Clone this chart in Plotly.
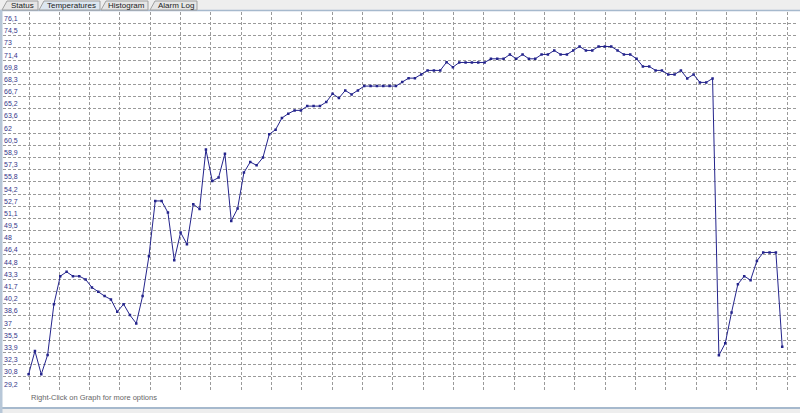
import numpy as np
import plotly.graph_objects as go

# ---------------- data ----------------
TEMPERATURES = [
    31.08, 34.07, 31.08, 33.56, 40.09, 43.68, 44.23, 43.68, 43.68, 43.26,
    42.23, 41.67, 41.12, 40.69, 39.11, 40.09, 38.68, 37.62, 41.12, 46.24,
    53.33, 53.33, 51.84, 45.73, 49.28, 47.78, 52.91, 52.30, 59.92, 55.89,
    56.33, 59.40, 50.77, 52.35, 56.97, 58.33, 57.90, 58.89, 61.88, 62.48,
    63.97, 64.53, 64.95, 64.95, 65.50, 65.50, 65.50, 66.02, 67.09, 66.53,
    67.51, 67.00, 67.51, 68.07, 68.07, 68.07, 68.07, 68.07, 68.07, 68.58,
    69.09, 69.09, 69.56, 70.08, 70.08, 70.08, 71.14, 70.50, 71.10, 71.10,
    71.10, 71.10, 71.10, 71.57, 71.57, 71.57, 72.13, 71.57, 72.13, 71.57,
    71.57, 72.13, 72.13, 72.64, 72.13, 72.13, 72.64, 73.15, 72.64, 72.64,
    73.15, 73.15, 73.15, 72.64, 72.13, 72.13, 71.57, 70.59, 70.59, 70.08,
    70.08, 69.56, 69.56, 70.08, 69.05, 69.56, 68.54, 68.54, 69.05, 33.52,
    35.06, 39.03, 42.65, 43.68, 43.17, 45.64, 46.72, 46.72, 46.72, 34.62,
]
SAMPLES = list(range(len(TEMPERATURES)))

Y_TICK_LABELS = [
    "29,2", "30,8", "32,3", "33,9", "35,5", "37", "38,6", "40,2", "41,7", "43,3",
    "44,8", "46,4", "48", "49,5", "51,1", "52,7", "54,2", "55,8", "57,3", "58,9",
    "60,5", "62", "63,6", "65,2", "66,7", "68,3", "69,8", "71,4", "73", "74,5", "76,1",
]
Y_MIN, Y_MAX = 29.2, 76.1
TABS = ["Status", "Temperatures", "Histogram", "Alarm Log"]
SELECTED_TAB = "Temperatures"
FOOTER = "Right-Click on Graph for more options"

# ---------------- geometry (pixels) ----------------
W, H = 800, 413
PLOT_L, PLOT_R = 3, 797
PLOT_T, PLOT_B = 12, 389
Y_TOP_GRID_PX = 23.5
X_FIRST_PX = 28.6          # pixel of first sample
X_STEP_PX = 6.333          # pixels per sample
X_GRID_STEP_PX = 30.33
X_GRID_FIRST_PX = 29.0
N_VGRID = 26

def px(x):
    return x / W

def py(y):
    return 1 - y / H

y_per_px = (Y_MAX - Y_MIN) / (PLOT_B - Y_TOP_GRID_PX)
y_top = Y_MAX + (Y_TOP_GRID_PX - PLOT_T) * y_per_px
y_bot = Y_MIN - 0.6 * y_per_px

x_min = -(X_FIRST_PX - PLOT_L) / X_STEP_PX
x_max = x_min + (PLOT_R - PLOT_L) / X_STEP_PX
x_grid = [((X_GRID_FIRST_PX + k * X_GRID_STEP_PX) - X_FIRST_PX) / X_STEP_PX for k in range(N_VGRID)]

y_ticks = list(np.linspace(Y_MIN, Y_MAX, len(Y_TICK_LABELS)))

LINE_COLOR = "#24248c"
GRID_COLOR = "#9a9a9a"
LABEL_COLOR = "#35358a"
FONT = "Liberation Sans, Arial, sans-serif"

fig = go.Figure()
fig.add_trace(go.Scatter(
    x=SAMPLES, y=TEMPERATURES, mode="lines+markers",
    line=dict(color=LINE_COLOR, width=1),
    marker=dict(symbol="square", size=2.5, color=LINE_COLOR),
    hoverinfo="y", showlegend=False,
))

shapes = []
# tab strip background
shapes.append(dict(type="rect", xref="paper", yref="paper", x0=0, x1=1, y0=py(10), y1=py(0),
                   fillcolor="#eeeeee", line_width=0, layer="below"))
shapes.append(dict(type="line", xref="paper", yref="paper", x0=0, x1=1, y0=py(10.5), y1=py(10.5),
                   line=dict(color="#a6b9cd", width=1.5)))
# bottom strip
shapes.append(dict(type="rect", xref="paper", yref="paper", x0=0, x1=1, y0=py(413), y1=py(409),
                   fillcolor="#eeeeee", line_width=0, layer="below"))
shapes.append(dict(type="line", xref="paper", yref="paper", x0=0, x1=1, y0=py(408), y1=py(408),
                   line=dict(color="#a6b9cd", width=2)))
# left border
shapes.append(dict(type="rect", xref="paper", yref="paper", x0=0, x1=px(2.5), y0=py(413), y1=py(10),
                   fillcolor="#b7c7d8", line_width=0))

# tabs
tab_bounds = [(2, 38), (39, 100), (101, 148), (150, 197)]
annotations = []
for name, (a, b) in zip(TABS, tab_bounds):
    sel = name == SELECTED_TAB
    fill = "#dde7f1" if sel else "#e6e6e6"
    path = (f"M {px(a)},{py(10)} L {px(a+5)},{py(1)} L {px(b)},{py(1)} L {px(b)},{py(10)} Z")
    shapes.append(dict(type="path", xref="paper", yref="paper", path=path,
                       fillcolor=fill, line=dict(color="#a0a0a0", width=1)))
    annotations.append(dict(x=px((a + b) / 2 + 2), y=py(5.6), xref="paper", yref="paper",
                            text=name, showarrow=False, xanchor="center", yanchor="middle",
                            font=dict(family=FONT, size=8, color="#222222")))

# y-axis labels (sit just above their grid line, left aligned)
for val, lab in zip(y_ticks, Y_TICK_LABELS):
    annotations.append(dict(x=px(3), y=val, xref="paper", yref="y", text=lab,
                            showarrow=False, xanchor="left", yanchor="bottom",
                            borderpad=0, yshift=0.5,
                            font=dict(family=FONT, size=7, color=LABEL_COLOR)))

annotations.append(dict(x=px(29), y=py(397), xref="paper", yref="paper", text=FOOTER,
                        showarrow=False, xanchor="left", yanchor="middle",
                        font=dict(family=FONT, size=7.5, color="#666666")))

fig.update_layout(
    width=W, height=H,
    margin=dict(l=0, r=0, t=0, b=0),
    paper_bgcolor="white", plot_bgcolor="white",
    shapes=shapes, annotations=annotations,
    xaxis=dict(domain=[px(PLOT_L), px(PLOT_R)], range=[x_min, x_max],
               tickmode="array", tickvals=x_grid, showticklabels=False, ticks="",
               showgrid=True, gridcolor=GRID_COLOR, gridwidth=1, griddash="3px,2px",
               zeroline=False, showline=False, fixedrange=True),
    yaxis=dict(domain=[1 - (PLOT_B + 0.6) / H, 1 - PLOT_T / H], range=[y_bot, y_top],
               tickmode="array", tickvals=y_ticks, showticklabels=False, ticks="",
               showgrid=True, gridcolor=GRID_COLOR, gridwidth=1, griddash="3px,2px",
               zeroline=False, showline=False, fixedrange=True),
)

fig.write_html(
    "out.html",
    config={"displayModeBar": False},
    post_script="document.body.style.margin='0';document.body.style.padding='0';"
                "document.body.style.overflow='hidden';",
)
